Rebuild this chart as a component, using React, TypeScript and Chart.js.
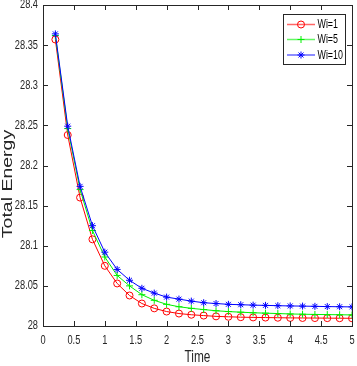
import React, { useEffect, useRef } from "react";
import { Chart, registerables } from "chart.js";

Chart.register(...registerables);

const times = [0.2, 0.4, 0.6, 0.8, 1.0, 1.2, 1.4, 1.6, 1.8, 2.0, 2.2, 2.4, 2.6, 2.8, 3.0, 3.2, 3.4, 3.6, 3.8, 4.0, 4.2, 4.4, 4.6, 4.8, 5.0];
const wi1 = [28.357, 28.238, 28.16, 28.108, 28.075, 28.053, 28.038, 28.028, 28.022, 28.018, 28.0155, 28.014, 28.013, 28.012, 28.0115, 28.011, 28.0107, 28.0105, 28.0103, 28.0101, 28.01, 28.0099, 28.0098, 28.0097, 28.0096];
const wi5 = [28.362, 28.246, 28.17, 28.119, 28.086, 28.063, 28.05, 28.039, 28.032, 28.027, 28.024, 28.022, 28.0205, 28.019, 28.018, 28.0172, 28.0165, 28.016, 28.0155, 28.015, 28.0147, 28.0144, 28.0142, 28.014, 28.0138];
const wi10 = [28.364, 28.249, 28.174, 28.125, 28.092, 28.0705, 28.057, 28.047, 28.041, 28.036, 28.0335, 28.031, 28.029, 28.028, 28.027, 28.0265, 28.026, 28.0257, 28.0253, 28.025, 28.0248, 28.0245, 28.0242, 28.024, 28.0238];
const seriesNames = ["Wi=1", "Wi=5", "Wi=10"];
const xTicks = [0, 0.5, 1, 1.5, 2, 2.5, 3, 3.5, 4, 4.5, 5];
const xTickLabels = ["0", "0.5", "1", "1.5", "2", "2.5", "3", "3.5", "4", "4.5", "5"];
const yTicks = [28, 28.05, 28.1, 28.15, 28.2, 28.25, 28.3, 28.35, 28.4];
const yTickLabels = ["28", "28.05", "28.1", "28.15", "28.2", "28.25", "28.3", "28.35", "28.4"];
const xTitle = "Time";
const yTitle = "Total Energy";

const COLORS = ["#ff0000", "#00f000", "#0000ff"];
const STYLES = ["circle", "cross", "star"];
const FONT = "'Liberation Sans', Arial, Helvetica, sans-serif";
const AXIS = "#262626";
const SQX = 0.74;

function drawMarker(ctx: CanvasRenderingContext2D, style: string, x: number, y: number, r: number, color: string) {
  ctx.save();
  ctx.strokeStyle = color;
  ctx.lineWidth = 1;
  ctx.beginPath();
  if (style === "circle") {
    ctx.arc(x, y, r, 0, Math.PI * 2);
  } else {
    ctx.moveTo(x - r, y); ctx.lineTo(x + r, y);
    ctx.moveTo(x, y - r); ctx.lineTo(x, y + r);
    if (style === "star") {
      const d = r * 0.707;
      ctx.moveTo(x - d, y - d); ctx.lineTo(x + d, y + d);
      ctx.moveTo(x - d, y + d); ctx.lineTo(x + d, y - d);
    }
  }
  ctx.stroke();
  ctx.restore();
}

function squeezedText(ctx: CanvasRenderingContext2D, text: string, x: number, y: number) {
  ctx.save();
  ctx.translate(x, y);
  ctx.scale(SQX, 1);
  ctx.fillText(text, 0, 0);
  ctx.restore();
}

const framePlugin = {
  id: "matlabFrame",
  afterDraw(chart: any) {
    const ctx: CanvasRenderingContext2D = chart.ctx;
    const a = chart.chartArea;
    const xs = chart.scales.x;
    const ys = chart.scales.y;
    ctx.save();
    ctx.strokeStyle = AXIS;
    ctx.lineWidth = 1;
    ctx.strokeRect(Math.round(a.left) + 0.5, Math.round(a.top) + 0.5, Math.round(a.right - a.left), Math.round(a.bottom - a.top));
    const tl = 5;
    ctx.beginPath();
    xTicks.forEach((v) => {
      const px = Math.round(xs.getPixelForValue(v)) + 0.5;
      ctx.moveTo(px, a.bottom); ctx.lineTo(px, a.bottom - tl);
      ctx.moveTo(px, a.top); ctx.lineTo(px, a.top + tl);
    });
    yTicks.forEach((v) => {
      const py = Math.round(ys.getPixelForValue(v)) + 0.5;
      ctx.moveTo(a.left, py); ctx.lineTo(a.left + tl, py);
      ctx.moveTo(a.right, py); ctx.lineTo(a.right - tl, py);
    });
    ctx.stroke();

    ctx.fillStyle = AXIS;
    ctx.font = `12.5px ${FONT}`;
    ctx.textAlign = "center";
    ctx.textBaseline = "middle";
    xTicks.forEach((v, i) => {
      squeezedText(ctx, xTickLabels[i], xs.getPixelForValue(v), a.bottom + 14.5);
    });
    ctx.textAlign = "right";
    yTicks.forEach((v, i) => {
      squeezedText(ctx, yTickLabels[i], a.left - 5, ys.getPixelForValue(v));
    });

    ctx.font = `16px ${FONT}`;
    ctx.textAlign = "center";
    squeezedText(ctx, xTitle, (a.left + a.right) / 2, 358);

    ctx.save();
    ctx.font = `19.5px ${FONT}`;
    ctx.translate(8, 184);
    ctx.scale(SQX, 1);
    ctx.rotate(-Math.PI / 2);
    ctx.textAlign = "center";
    ctx.textBaseline = "middle";
    ctx.fillText(yTitle, 0, 0);
    ctx.restore();

    // legend
    const lx = 283.5, ly = 14.5, lw = 62, lh = 50;
    ctx.fillStyle = "#ffffff";
    ctx.fillRect(lx, ly, lw, lh);
    ctx.strokeStyle = AXIS;
    ctx.strokeRect(lx, ly, lw, lh);
    const rows = [24.5, 39.5, 55];
    seriesNames.forEach((name, i) => {
      const y = rows[i];
      ctx.save();
      ctx.strokeStyle = COLORS[i];
      ctx.globalAlpha = 0.6;
      ctx.lineWidth = 1.5;
      ctx.beginPath();
      ctx.moveTo(287, y); ctx.lineTo(315, y);
      ctx.stroke();
      ctx.restore();
      drawMarker(ctx, STYLES[i], 301, y, 3.5, COLORS[i]);
      ctx.fillStyle = "#000000";
      ctx.font = `12px ${FONT}`;
      ctx.textAlign = "left";
      ctx.textBaseline = "middle";
      squeezedText(ctx, name, 317.5, y + 0.5);
    });
    ctx.restore();
  },
};

export default function App() {
  const ref = useRef<HTMLCanvasElement | null>(null);
  useEffect(() => {
    document.body.style.margin = "0";
    const canvas = ref.current;
    if (!canvas) return;
    const series = [wi1, wi5, wi10];
    const chart = new Chart(canvas, {
      type: "line",
      data: {
        datasets: series.map((vals, i) => ({
          label: seriesNames[i],
          data: times.map((t, k) => ({ x: t, y: vals[k] })),
          borderColor: COLORS[i],
          borderWidth: 1,
          pointStyle: STYLES[i] as any,
          pointRadius: 3.5,
          pointBorderWidth: 1,
          pointBorderColor: COLORS[i],
          pointBackgroundColor: "rgba(0,0,0,0)",
          tension: 0,
          fill: false,
          order: 2 - i,
        })),
      },
      options: {
        responsive: false,
        animation: false,
        devicePixelRatio: 1,
        layout: { padding: { left: 0, right: 3, top: 4, bottom: 0 } },
        plugins: { legend: { display: false }, tooltip: { enabled: false } },
        scales: {
          x: {
            type: "linear",
            min: 0,
            max: 5,
            grid: { display: false },
            border: { display: false },
            ticks: { display: false },
            afterFit: (s: any) => { s.height = 40; },
          },
          y: {
            type: "linear",
            min: 28,
            max: 28.4,
            grid: { display: false },
            border: { display: false },
            ticks: { display: false },
            afterFit: (s: any) => { s.width = 43; },
          },
        },
      },
      plugins: [framePlugin],
    });
    return () => chart.destroy();
  }, []);
  return (
    <div style={{ width: 357, height: 366, background: "#ffffff" }}>
      <canvas ref={ref} width={357} height={366} style={{ display: "block" }} />
    </div>
  );
}
